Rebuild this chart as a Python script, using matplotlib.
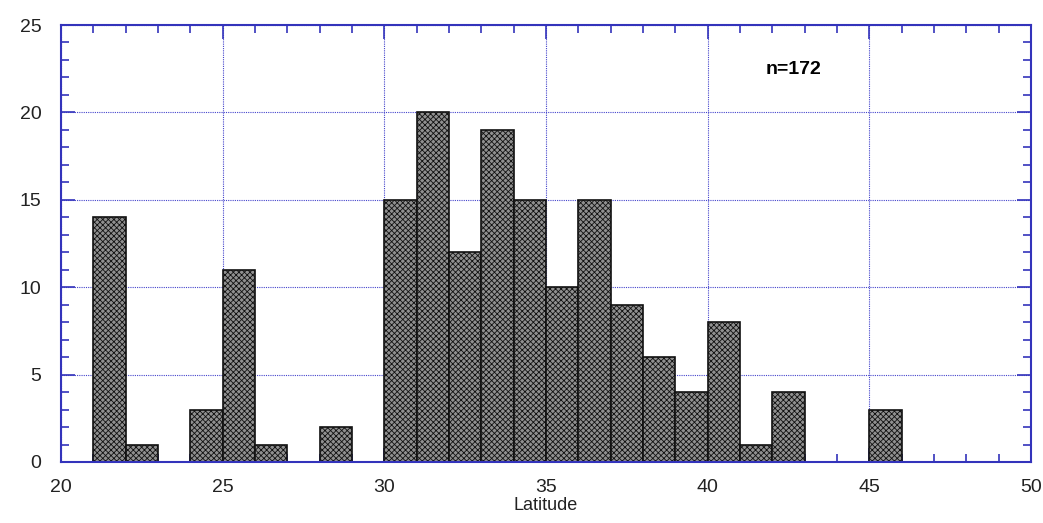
import matplotlib
matplotlib.use("Agg")
import matplotlib.pyplot as plt
from matplotlib.ticker import MultipleLocator

bin_left = list(range(21, 46))
counts = [14, 1, 0, 3, 11, 1, 0, 2, 0, 15, 20, 12, 19, 15, 10, 15, 9, 6, 4, 8, 1, 4, 0, 0, 3]
annotation = "n=172"
xlabel = "Latitude"

plt.rcParams['font.family'] = ['Liberation Sans', 'DejaVu Sans']
plt.rcParams['hatch.color'] = '#505050'
plt.rcParams['hatch.linewidth'] = 0.6

fig = plt.figure(figsize=(10.43, 5.23), dpi=100)
ax = fig.add_axes([61/1043, 61/523, 970/1043, 437/523])

axis_col = '#3333bb'
ax.set_axisbelow(True)
ax.grid(True, which='major', color='#4444cc', linestyle=(0, (1, 1)), linewidth=0.8)

ax.bar(bin_left, counts, width=1.0, align='edge', facecolor='#909090',
       edgecolor='#111111', linewidth=1.2, hatch='xxxxxx')

ax.set_xlim(20, 50)
ax.set_ylim(0, 25)
ax.xaxis.set_major_locator(MultipleLocator(5))
ax.xaxis.set_minor_locator(MultipleLocator(1))
ax.yaxis.set_major_locator(MultipleLocator(5))
ax.yaxis.set_minor_locator(MultipleLocator(1))
ax.tick_params(which='both', direction='in', top=True, right=True, color=axis_col,
               labelsize=14, labelcolor='#222222')
ax.tick_params(which='major', length=10, width=1.2)
ax.tick_params(which='minor', length=6, width=1.2)
ax.tick_params(axis='x', pad=12)
ax.tick_params(axis='y', pad=14)
for s in ax.spines.values():
    s.set_color(axis_col)
    s.set_linewidth(1.5)

ax.set_xlabel(xlabel, fontsize=13, color='#222222', labelpad=1)
ax.text(42.65, 22.45, annotation, fontsize=14, fontweight='bold', ha='center', va='center')

fig.savefig('out.png', dpi=100)
